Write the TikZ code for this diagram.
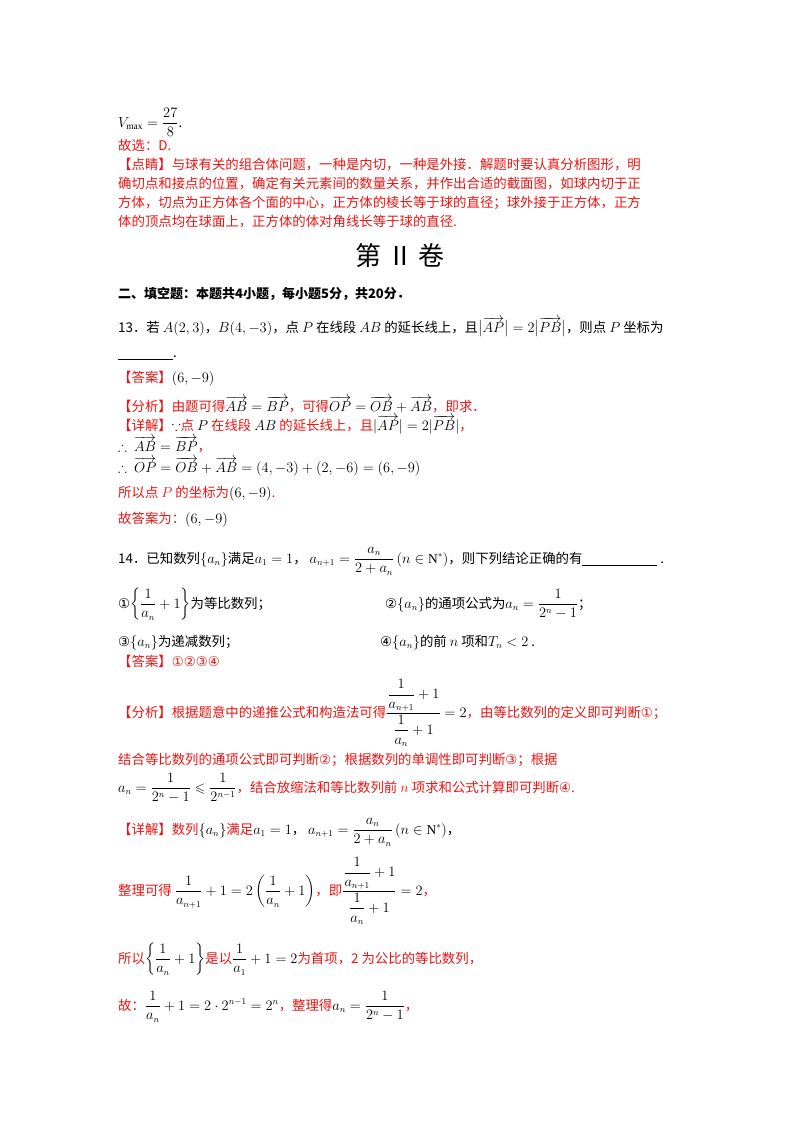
\documentclass[tikz,border=0pt]{standalone}
\usepackage{amsmath,amssymb}
\usepackage{fontspec}
\setmainfont{Liberation Serif}
\newfontfamily\cjk{Noto Sans CJK SC}
\newfontfamily\djv{DejaVu Sans}
\definecolor{rd}{RGB}{235,20,20}
\newcommand{\ov}[1]{\smash{\overrightarrow{#1}}}
\newcommand{\ci}[1]{{\djv #1}}
\begin{document}
\begin{tikzpicture}[x=1pt,y=-1pt,
  t/.style={anchor=base west,inner sep=0pt,font=\cjk\fontsize{13.4}{18}\selectfont},
  r/.style={t,text=rd}]
\useasboundingbox (0,0) rectangle (800,1132);
\node[t] (a1) at (118,127) {$V_{\max}=\dfrac{27}{8}$.};
\node[r] (a2) at (118,150) {故选：D.};
\node[r] (a3) at (118,169) {【点睛】与球有关的组合体问题，一种是内切，一种是外接．解题时要认真分析图形，明};
\node[r] (a4) at (118,188) {确切点和接点的位置，确定有关元素间的数量关系，并作出合适的截面图，如球内切于正};
\node[r] (a5) at (118,207) {方体，切点为正方体各个面的中心，正方体的棱长等于球的直径；球外接于正方体，正方};
\node[r] (a6) at (118,226) {体的顶点均在球面上，正方体的体对角线长等于球的直径.};
\node[t,anchor=base,font=\cjk\fontsize{26}{30}\selectfont] (h) at (400,265) {第 Ⅱ 卷};
\node[t,font=\cjk\bfseries\fontsize{13}{17}\selectfont] (b0) at (118,298) {二、填空题：本题共4小题，每小题5分，共20分．};
\node[t] (b1) at (118,332) {13．若 $A(2,3)$，$B(4,-3)$，点 $P$ 在线段 $AB$ 的延长线上，且$\bigl|\ov{AP}\bigr|=2\bigl|\ov{PB}\bigr|$，则点 $P$ 坐标为};
\node[t] (b2) at (118,357) {\rule[-2pt]{55pt}{0.5pt}.};
\node[r] (b3) at (118,382) {【答案】\color{black}$\left(6,-9\right)$};
\node[r] (b4) at (118,411) {【分析】由题可得$\color{black}\ov{AB}=\ov{BP}$，可得$\color{black}\ov{OP}=\ov{OB}+\ov{AB}$，即求．};
\node[r] (b5) at (118,430) {【详解】$\color{black}\because$点 $\color{black}P$ 在线段 $\color{black}AB$ 的延长线上，且$\color{black}|\ov{AP}|=2|\ov{PB}|$，};
\node[t] (b6) at (118,451) {$\therefore\ \ov{AB}=\ov{BP}$\color{rd}，};
\node[t] (b7) at (118,472) {$\therefore\ \ov{OP}=\ov{OB}+\ov{AB}=\left(4,-3\right)+\left(2,-6\right)=\left(6,-9\right)$};
\node[r] (b8) at (118,497) {所以点 $P$ 的坐标为\color{black}$\left(6,-9\right)$\color{rd}.};
\node[r] (b9) at (118,523) {故答案为：\color{black}$\left(6,-9\right)$};
\node[t] (c1) at (118,563) {14．已知数列$\{a_n\}$满足$a_1=1$，\ $a_{n+1}=\dfrac{a_n}{2+a_n}\left(n\in\mathrm{N}^*\right)$，则下列结论正确的有\rule[-2pt]{75pt}{0.5pt}\ .};
\node[t] (c2) at (118,608) {\ci{①}$\left\{\dfrac{1}{a_n}+1\right\}$为等比数列；};
\node[t] (c3) at (385,608) {\ci{②}$\{a_n\}$的通项公式为$a_n=\dfrac{1}{2^n-1}$；};
\node[t] (c4) at (118,646) {\ci{③}$\{a_n\}$为递减数列；};
\node[t] (c5) at (380,646) {\ci{④}$\{a_n\}$的前 $n$ 项和$T_n<2$\ .};
\node[r] (c6) at (118,666) {【答案】\ci{①②③④}};
\node[r] (c7) at (118,717) {【分析】根据题意中的递推公式和构造法可得\color{black}$\dfrac{\dfrac{1}{a_{n+1}}+1}{\dfrac{1}{a_n}+1}=2$\color{rd}，由等比数列的定义即可判断\ci{①}；};
\node[r] (c8) at (118,764) {结合等比数列的通项公式即可判断\ci{②}；根据数列的单调性即可判断\ci{③}；根据};
\node[r] (c9) at (118,792) {\color{black}$a_n=\dfrac{1}{2^n-1}\leqslant\dfrac{1}{2^{n-1}}$\color{rd}，结合放缩法和等比数列前 $n$ 项求和公式计算即可判断\ci{④}.};
\node[r] (d1) at (118,834) {【详解】数列\color{black}$\{a_n\}$\color{rd}满足\color{black}$a_1=1$，\ $a_{n+1}=\dfrac{a_n}{2+a_n}\left(n\in\mathrm{N}^*\right)$，};
\node[r] (d2) at (118,895) {整理可得\color{black}\ $\dfrac{1}{a_{n+1}}+1=2\left(\dfrac{1}{a_n}+1\right)$\color{rd}，即\color{black}$\dfrac{\dfrac{1}{a_{n+1}}+1}{\dfrac{1}{a_n}+1}=2$\color{rd}，};
\node[r] (d3) at (118,963) {所以\color{black}$\left\{\dfrac{1}{a_n}+1\right\}$\color{rd}是以\color{black}$\dfrac{1}{a_1}+1=2$\color{rd} 为首项，2 为公比的等比数列，};
\node[r] (d4) at (118,1010) {故：\color{black}$\dfrac{1}{a_n}+1=2\cdot2^{n-1}=2^n$\color{rd}，整理得\color{black}$a_n=\dfrac{1}{2^n-1}$\color{rd}，};
\end{tikzpicture}
\end{document}
